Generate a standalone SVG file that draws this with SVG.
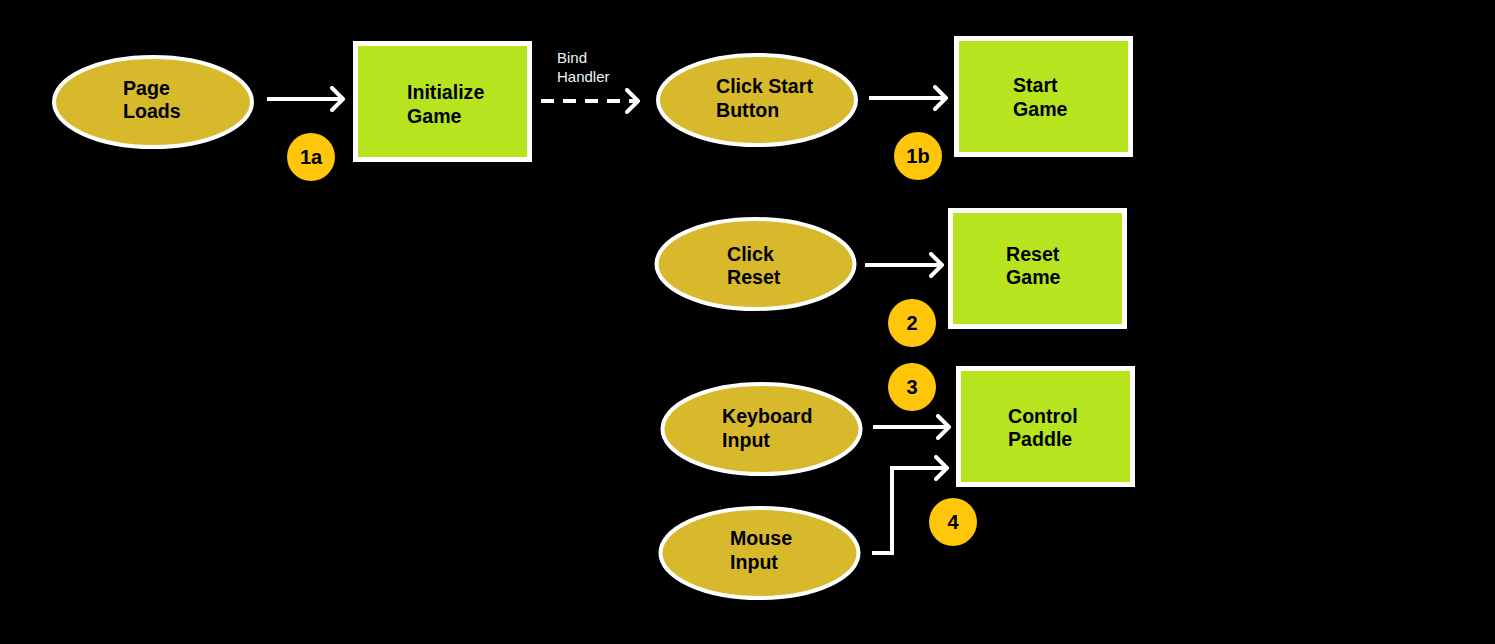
<svg xmlns="http://www.w3.org/2000/svg" width="1495" height="644" viewBox="0 0 1495 644">
<defs>
<style>
.ell{fill:#D9B92C;stroke:#FFFFFF;stroke-width:4}
.box{fill:#B6E41E;stroke:#FFFFFF;stroke-width:5}
.badge{fill:#FFC60A}
.lbl{font-family:"Liberation Sans",Arial,sans-serif;font-weight:bold;font-size:19.6px;fill:#000000}
.blbl{font-family:"Liberation Sans",Arial,sans-serif;font-weight:bold;font-size:20px;fill:#000000;text-anchor:middle}
.edge{fill:none;stroke:#FFFFFF;stroke-width:4}
.note{font-family:"Liberation Sans",Arial,sans-serif;font-size:15px;fill:#F0F4FF}
</style>
<marker id="arr" markerUnits="userSpaceOnUse" viewBox="0 0 16 26" markerWidth="16" markerHeight="26" refX="13" refY="13" orient="auto">
<path d="M2,2 L13,13 L2,24" fill="none" stroke="#FFFFFF" stroke-width="4" stroke-linecap="round" stroke-linejoin="round"/>
</marker>
</defs>
<rect x="0" y="0" width="1495" height="644" fill="#000000"/>
<g id="connectors">
<line class="edge" x1="267" y1="99" x2="343" y2="99" marker-end="url(#arr)"/>
<line class="edge" x1="541" y1="101" x2="638" y2="101" stroke-dasharray="13,9" marker-end="url(#arr)"/>
<line class="edge" x1="869" y1="98" x2="946" y2="98" marker-end="url(#arr)"/>
<line class="edge" x1="865" y1="265" x2="942" y2="265" marker-end="url(#arr)"/>
<line class="edge" x1="873" y1="427" x2="949" y2="427" marker-end="url(#arr)"/>
<polyline class="edge" points="872,553 892,553 892,468 947,468" marker-end="url(#arr)"/>
<text class="note" x="557" y="63">Bind</text>
<text class="note" x="557" y="82">Handler</text>
</g>
<g id="page-loads">
<ellipse class="ell" cx="153" cy="102" rx="99" ry="45"/>
<text class="lbl" x="123" y="95">Page</text>
<text class="lbl" x="123" y="118">Loads</text>
</g>
<g id="initialize-game">
<rect class="box" x="355.5" y="43.5" width="174" height="116"/>
<text class="lbl" x="407" y="99">Initialize</text>
<text class="lbl" x="407" y="123">Game</text>
</g>
<g id="click-start">
<ellipse class="ell" cx="757" cy="100" rx="99" ry="45"/>
<text class="lbl" x="716" y="93">Click Start</text>
<text class="lbl" x="716" y="117">Button</text>
</g>
<g id="start-game">
<rect class="box" x="956.5" y="38.5" width="174" height="116"/>
<text class="lbl" x="1013" y="92">Start</text>
<text class="lbl" x="1013" y="116">Game</text>
</g>
<g id="click-reset">
<ellipse class="ell" cx="755.5" cy="264" rx="99" ry="45"/>
<text class="lbl" x="727" y="261">Click</text>
<text class="lbl" x="727" y="284">Reset</text>
</g>
<g id="reset-game">
<rect class="box" x="950.5" y="210.5" width="174" height="116"/>
<text class="lbl" x="1006" y="261">Reset</text>
<text class="lbl" x="1006" y="284">Game</text>
</g>
<g id="keyboard-input">
<ellipse class="ell" cx="761.5" cy="429" rx="99" ry="45"/>
<text class="lbl" x="722" y="423">Keyboard</text>
<text class="lbl" x="722" y="447">Input</text>
</g>
<g id="mouse-input">
<ellipse class="ell" cx="759.5" cy="553" rx="99" ry="45"/>
<text class="lbl" x="730" y="545">Mouse</text>
<text class="lbl" x="730" y="569">Input</text>
</g>
<g id="control-paddle">
<rect class="box" x="958.5" y="368.5" width="174" height="116"/>
<text class="lbl" x="1008" y="423">Control</text>
<text class="lbl" x="1008" y="446">Paddle</text>
</g>
<g id="badge-1a">
<circle class="badge" cx="311" cy="157" r="24"/>
<text class="blbl" x="311" y="164">1a</text>
</g>
<g id="badge-1b">
<circle class="badge" cx="918" cy="156" r="24"/>
<text class="blbl" x="918" y="163">1b</text>
</g>
<g id="badge-2">
<circle class="badge" cx="912" cy="323" r="24"/>
<text class="blbl" x="912" y="330">2</text>
</g>
<g id="badge-3">
<circle class="badge" cx="912" cy="387" r="24"/>
<text class="blbl" x="912" y="394">3</text>
</g>
<g id="badge-4">
<circle class="badge" cx="953" cy="522" r="24"/>
<text class="blbl" x="953" y="529">4</text>
</g>
</svg>
